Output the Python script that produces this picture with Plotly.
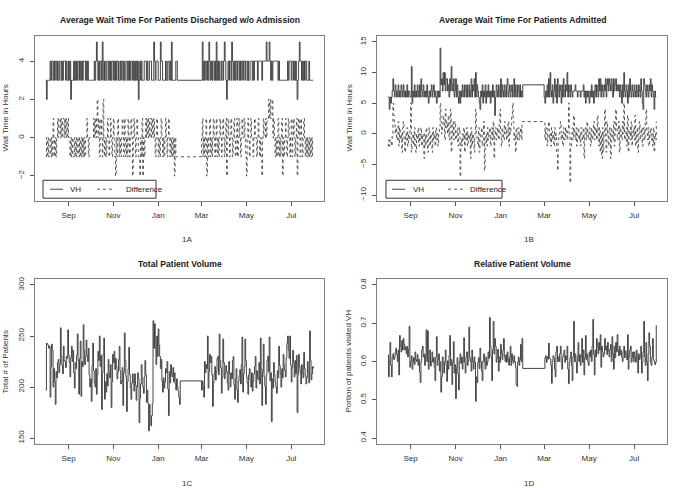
import pandas as pd
import plotly.graph_objects as go

# ---------------- data (daily values, Aug 2008 - Jan 2009 and Mar 2009 - Jul 2009) ----------------
FIRST_START = "2008-08-01"
SECOND_START = "2009-03-01"
LAST_DAY = "2009-07-31"

TICK_DATES = ["2008-09-01", "2008-11-01", "2009-01-01", "2009-03-01", "2009-05-01", "2009-07-01"]
TICK_TEXT = ["Sep", "Nov", "Jan", "Mar", "May", "Jul"]

# 1A: discharged w/o admission
disch_vh_a = [3,2,3,3,3,3,4,3,4,4, 3,4,3,4,4,3,4,3,3,4, 4,3,4,3,4,4,4,3,4,3, 3,4,3,4,2,3,3,3,4,3,
              4,3,4,3,4,4,3,4,3,4, 3,4,4,4,3,4,3,4,3,3, 3,3,3,3,3,3,4,3,4,5, 4,3,4,3,4,4,3,5,4,3,
              4,3,3,4,4,3,4,3,4,3, 4,4,3,4,3,4,3,4,4,3, 3,4,3,4,4,3,4,3,3,4, 4,3,4,3,4,3,4,4,3,4,
              3,4,3,4,3,4,2,3,4,3, 4,3,3,3,4,4,4,3,4,3, 3,4,4,4,3,3,3,5,4,3, 4,4,4,3,3,3,5,4,4,3,
              3,3,3,4,3,3,4,4,3,4, 3,5,3,3,3,3,3,4,4,3, 3,3,3,3]
disch_vh_b = [3,5,3,4,3,4,4,3,4,3, 5,4,3,4,3,4,4,3,4,3, 5,3,4,3,4,3,3,4,4,3, 4,5,4,3,2,3,4,3,4,4,
              3,5,4,3,4,3,4,4,3,4, 4,3,4,3,4,4,3,4,4,3, 4,4,3,4,3,3,4,4,4,3, 4,3,4,4,4,4,3,4,4,4,
              4,4,3,4,4,4,4,4,5,4, 4,4,5,4,3,4,3,4,4,4, 4,4,4,4,3,4,3,3,3,3, 3,3,3,3,3,3,3,4,3,4,
              4,4,3,4,4,3,4,3,4,3, 2,3,4,5,4,4,3,4,3,4, 3,4,4,3,3,3,4,3,3,3, 3,3,3]
disch_diff_a = [-1,0,-1,0,-1,-1,0,-1,0,-1, 1,0,-1,0,-1,0,1,0,1,1, 0,1,0,1,1,0,1,0,1,0, 1,0,0,-1,0,-1,0,-1,-1,0,
                -1,0,-1,0,0,-1,0,-1,0,-1, 0,-1,0,-1,0,0,1,0,-1,0, 0,0,0,0,0,1,0,1,0,1, 2,0,1,-1,0,1,0,-1,2,0,
                -1,0,-1,0,1,0,-1,0,1,0, -1,0,1,0,-1,-2,0,-1,1,0, -1,0,-1,0,1,0,-1,1,0,-1, 0,-1,1,0,-1,0,1,0,-2,0,
                1,0,-1,0,1,0,-1,-1,-2,0, -1,1,-2,0,-1,0,1,0,1,0, 1,0,1,1,0,1,0,1,0,-1, 0,1,0,-1,0,-1,0,1,0,-1,
                0,-1,0,1,0,-1,0,1,0,-1, 0,-1,0,-1,0,-2,0,-1,-1,-1, -1,-1,-1,-1]
disch_diff_b = [0,1,-1,0,-1,0,1,-2,0,-1, 0,1,-1,0,-1,0,1,0,-1,0, 1,-1,0,-1,0,1,0,-1,0,1, 0,-1,0,1,-2,0,1,0,-1,0,
                1,0,-1,0,1,0,-1,0,1,-1, 0,1,0,-1,0,1,0,0,1,0, -1,-2,0,1,0,-1,0,1,0,0, -1,0,1,0,0,-1,0,1,0,-1,
                0,-1,-2,0,1,0,0,1,0,1, 1,2,1,2,1,1,2,0,1,0, -1,0,-1,0,1,-1,0,-1,0,1, -2,0,-1,0,1,0,-1,0,1,0,
                -1,0,1,-1,0,1,0,-1,0,1, -2,0,1,0,-1,1,0,-1,0,1, 0,-1,0,-1,0,-1,0,-1,0,-1, 0,-1,-1]

# 1B: admitted
adm_vh_a = [6,6,4,6,5,6,7,9,7,6, 8,7,6,7,8,6,7,6,8,7, 6,8,7,6,7,6,8,6,7,7, 6,6,11,5,7,6,8,6,7,6,
            8,7,6,8,6,9,7,6,8,7, 6,7,6,8,6,5,7,6,7,8, 6,7,8,6,7,6,5,7,6,7, 6,14,8,9,7,10,8,10,7,9,
            9,7,8,6,9,7,11,8,7,9, 6,7,9,6,8,6,5,7,5,7, 6,8,7,6,8,7,6,8,6,7, 8,6,7,9,6,8,7,9,6,10,
            6,8,7,6,5,4,7,6,8,5, 7,6,8,5,7,6,8,6,7,5, 7,6,8,6,7,3,6,8,7,6, 8,7,6,9,6,8,7,6,8,7,
            6,8,9,6,7,8,6,7,8,6, 7,9,6,8,7,6,8,7,6,8, 6,7,6,8]
adm_vh_b = [6,5,7,6,8,6,9,6,10,7, 6,8,5,7,9,6,8,5,9,7, 6,8,7,5,8,6,9,7,6,8, 7,10,6,8,7,6,8,7,6,7,
            7,7,8,7,7,6,7,7,7,6, 7,7,7,8,6,7,5,7,6,7, 6,5,7,6,8,6,7,5,7,8, 6,8,7,6,9,7,9,6,8,7,
            6,8,7,9,6,8,9,7,9,8, 7,9,8,6,9,7,8,9,7,8, 7,8,6,8,7,5,8,6,10,7, 6,8,7,5,8,6,9,7,6,8,
            7,6,8,7,6,8,7,6,8,7, 6,9,7,5,4,9,8,7,6,8, 7,6,8,7,9,6,8,7,6,4, 7,6,6]
adm_diff_a = [-2,-1,-2,-1,-1,-2,0,5,3,2, 0,1,-1,0,2,-2,1,-1,0,-3, 1,2,-1,-3,0,-1,1,-2,0,-1, 1,5,-3,-1,0,-2,1,-1,-3,0,
              -1,1,-2,0,-1,1,-2,0,-1,-4, 0,-2,1,-1,-3,0,1,-2,0,-1, -3,1,-1,0,-2,1,-1,0,-2,0, 1,5,2,0,1,3,2,-1,4,1,
              2,0,3,-1,1,4,-3,0,2,-1, 1,2,-1,0,1,-2,0,1,-7,-1, -2,0,-1,1,-3,0,-1,1,-2,0, -1,0,-4,1,-2,0,-1,-3,0,4,
              0,-1,-2,1,-3,-1,0,1,-2,-1, 2,-6,-1,0,-2,1,-1,0,1,-2, 0,1,-1,2,-4,0,1,-1,0,1, -1,2,4,0,-2,1,0,-1,2,0,
              1,-1,0,2,-2,1,0,1,3,5, 2,-1,0,-3,1,-1,0,1,-1,0, 1,-1,2,2]
adm_diff_b = [2,-1,1,0,-2,1,2,-1,0,-2, 1,-1,0,-2,1,-1,0,-3,-6,-1, 0,1,2,-1,0,-2,1,0,-1,1, 0,-1,1,5,0,-8,-2,0,1,-1,
              3,0,-1,1,-2,0,1,-1,0,-2, 1,0,-1,1,-4,0,1,-1,2,0, -1,1,0,-2,1,-1,0,2,-1,0, 1,-1,3,0,-2,1,-3,0,-4,1,
              -3,0,4,-1,-3,2,0,-2,1,0, -4,1,0,-1,2,-2,0,4,1,-1, 0,2,-3,1,0,-1,2,0,5,-1, 0,1,-2,3,-3,0,1,-1,2,-2,
              0,1,-1,3,-2,0,1,-3,0,2, -1,0,1,-2,0,1,-1,2,4,0, -1,1,-2,0,1,-1,0,-2,1,-3, 0,-1,2]

# 1C: total patient volume
total_a = [197,243,242,241,238,240,190,220,242,236, 200,218,205,183,215,209,224,227,214,222,
           258,230,221,213,240,226,225,219,230,228, 256,231,224,210,229,240,225,236,214,199,
           224,218,231,252,226,193,228,245,191,225, 220,261,236,222,230,246,231,225,238,212,
           200,208,186,221,243,216,204,200,218,193, 212,235,226,250,220,231,178,214,232,248,
           188,205,195,213,201,227,214,209,222,180, 205,232,224,235,217,228,220,208,215,227,
           240,216,203,206,219,182,214,253,226,210, 176,205,218,239,212,199,188,204,213,205,
           196,213,202,187,200,214,208,165,189,203, 222,209,200,194,210,226,212,185,197,184,
           157,183,170,162,172,184,265,238,262,238, 222,250,230,257,241,230,218,227,206,195,
           209,199,205,218,214,225,198,172,215,204, 222,212,210,219,205,214,203,197,208,200,
           196,190,183,206]
total_b = [197,206,200,190,225,214,222,218,250,199, 215,232,224,230,212,181,204,213,220,207,
           215,228,230,212,252,226,219,194,210,247, 224,208,213,221,215,204,197,225,213,200,
           214,208,226,230,202,188,208,218,197,185, 206,211,217,203,222,249,195,213,220,247,
           226,210,204,193,212,218,207,200,214,196, 205,213,220,230,199,216,209,207,224,203,
           248,218,182,215,242,210,201,183,212,226, 230,215,249,206,214,166,208,199,224,212,
           205,200,194,216,209,240,221,213,200,218, 209,232,222,216,210,229,243,250,236,228,
           250,222,205,219,236,224,210,226,213,231, 175,212,232,220,215,203,222,214,209,234,
           218,211,203,209,225,215,204,255,226,207, 213,220,218]

# 1D: relative patient volume (portion visiting VH)
share_a = [0.617,0.560,0.600,0.650,0.590,0.560,0.612,0.620,0.605,0.610, 0.625,0.635,0.618,0.600,0.630,0.565,0.668,0.640,0.625,0.655,
           0.630,0.660,0.645,0.630,0.638,0.620,0.640,0.612,0.632,0.692, 0.585,0.600,0.615,0.580,0.598,0.610,0.592,0.625,0.605,0.600,
           0.618,0.590,0.606,0.572,0.545,0.600,0.630,0.640,0.612,0.620, 0.590,0.615,0.683,0.600,0.680,0.580,0.602,0.630,0.588,0.600,
           0.625,0.598,0.610,0.585,0.550,0.612,0.665,0.590,0.605,0.620, 0.575,0.600,0.520,0.560,0.612,0.600,0.570,0.598,0.630,0.590,
           0.548,0.602,0.580,0.615,0.668,0.590,0.605,0.540,0.598,0.652, 0.570,0.592,0.503,0.585,0.610,0.568,0.526,0.600,0.620,0.595,
           0.612,0.580,0.600,0.662,0.598,0.570,0.612,0.625,0.590,0.602, 0.690,0.610,0.600,0.575,0.630,0.600,0.580,0.612,0.598,0.496,
           0.560,0.545,0.598,0.610,0.582,0.635,0.600,0.575,0.550,0.602, 0.620,0.598,0.580,0.612,0.590,0.600,0.625,0.608,0.715,0.640,
           0.612,0.550,0.630,0.705,0.620,0.660,0.640,0.598,0.610,0.632, 0.575,0.612,0.598,0.645,0.620,0.605,0.630,0.660,0.612,0.600,
           0.618,0.598,0.625,0.606,0.590,0.612,0.640,0.590,0.620,0.602, 0.596,0.615,0.600,0.585,0.540,0.535,0.598,0.612,0.590,0.605,
           0.645,0.600,0.660,0.582]
share_b = [0.582,0.610,0.615,0.598,0.612,0.606,0.648,0.610,0.607,0.590, 0.543,0.600,0.615,0.610,0.580,0.560,0.625,0.640,0.600,0.612,
           0.600,0.620,0.640,0.598,0.580,0.612,0.620,0.630,0.598,0.615, 0.605,0.640,0.580,0.542,0.598,0.610,0.625,0.590,0.550,0.612,
           0.705,0.600,0.620,0.598,0.570,0.612,0.650,0.600,0.618,0.590, 0.612,0.660,0.598,0.630,0.565,0.610,0.668,0.605,0.620,0.600,
           0.590,0.625,0.612,0.630,0.600,0.640,0.710,0.618,0.565,0.630, 0.612,0.660,0.640,0.620,0.650,0.630,0.670,0.585,0.640,0.625,
           0.612,0.620,0.660,0.630,0.640,0.618,0.650,0.628,0.612,0.632, 0.645,0.600,0.665,0.620,0.580,0.640,0.610,0.650,0.625,0.670,
           0.630,0.615,0.640,0.618,0.630,0.612,0.600,0.625,0.640,0.610, 0.628,0.620,0.605,0.670,0.580,0.612,0.630,0.640,0.598,0.610,
           0.625,0.600,0.625,0.612,0.598,0.630,0.615,0.570,0.620,0.605, 0.612,0.640,0.570,0.598,0.625,0.705,0.612,0.590,0.650,0.600,
           0.550,0.620,0.675,0.640,0.598,0.590,0.612,0.660,0.605,0.600, 0.592,0.598,0.695]

LEGEND_LABELS = ["VH", "Difference"]

# ---------------- figure ----------------
W, H = 685, 488
FONT = "Liberation Sans, Arial, Helvetica, sans-serif"
LINE = "#444444"
DASHLINE = "#555555"
FRAME = "#808080"
DASH = "3px,3px"


def dates(a, b):
    return list(pd.date_range(FIRST_START, periods=len(a))) + list(pd.date_range(SECOND_START, periods=len(b)))


start = pd.Timestamp(FIRST_START)
end = pd.Timestamp(LAST_DAY)
pad = (end - start) * 0.04
XRANGE = [start - pad, end + pad]

LEFT = [35 / W, 324 / W]
RIGHT = [377 / W, 667 / W]
TOP = [1 - 200 / H, 1 - 34 / H]
BOT = [1 - 444 / H, 1 - 278 / H]

fig = go.Figure()

panels = [
    ("", LEFT, TOP, [(disch_vh_a, disch_vh_b, "solid"), (disch_diff_a, disch_diff_b, DASH)],
     [-2, 0, 2, 4], [-3.32, 5.32]),
    ("2", RIGHT, TOP, [(adm_vh_a, adm_vh_b, "solid"), (adm_diff_a, adm_diff_b, DASH)],
     [-10, -5, 0, 5, 10, 15], [-11, 16]),
    ("3", LEFT, BOT, [(total_a, total_b, "solid")], [150, 200, 250, 300], [144, 306]),
    ("4", RIGHT, BOT, [(share_a, share_b, "solid")], [0.4, 0.5, 0.6, 0.7, 0.8], [0.384, 0.816]),
]

for suf, xd, yd, series, yticks, yrange in panels:
    for a, b, dash in series:
        fig.add_trace(go.Scatter(
            x=dates(a, b), y=a + b, mode="lines",
            line=dict(shape="hv", color=LINE if dash == "solid" else DASHLINE, width=1, dash=dash),
            xaxis="x" + suf, yaxis="y" + suf, showlegend=False, hoverinfo="skip",
        ))
    axis_common = dict(showline=True, mirror=True, linecolor=FRAME, linewidth=1,
                       showgrid=False, zeroline=False, ticks="outside", ticklen=4,
                       tickcolor="#555", tickwidth=1,
                       tickfont=dict(family=FONT, size=8, color="#333"))
    fig.update_layout(**{
        "xaxis" + suf: dict(domain=xd, anchor="y" + suf, type="date", range=XRANGE,
                            tickvals=TICK_DATES, ticktext=TICK_TEXT, ticklabelstandoff=2, **axis_common),
        "yaxis" + suf: dict(domain=yd, anchor="x" + suf, range=yrange, tickvals=yticks,
                            tickangle=-90, ticklabelstandoff=3, **axis_common),
    })

ann = []
shapes = []
titles = [
    ("Average Wait Time For Patients Discharged w/o Admission", (LEFT[0] + LEFT[1]) / 2, 1 - 18 / H),
    ("Average Wait Time For Patients Admitted", (RIGHT[0] + RIGHT[1]) / 2, 1 - 18 / H),
    ("Total Patient Volume", (LEFT[0] + LEFT[1]) / 2, 1 - 263 / H),
    ("Relative Patient Volume", (RIGHT[0] + RIGHT[1]) / 2, 1 - 263 / H),
]
for t, x, y in titles:
    ann.append(dict(text="<b>%s</b>" % t, x=x, y=y, xref="paper", yref="paper", showarrow=False,
                    xanchor="center", yanchor="middle", font=dict(family=FONT, size=8.6, color="#1a1a1a")))

subs = [("1A", 187 / W, 1 - 238 / H), ("1B", 529 / W, 1 - 238 / H),
        ("1C", 187 / W, 1 - 483 / H), ("1D", 529 / W, 1 - 483 / H)]
for t, x, y in subs:
    ann.append(dict(text=t, x=x, y=y, xref="paper", yref="paper", showarrow=False,
                    xanchor="center", yanchor="middle", font=dict(family=FONT, size=8, color="#333")))

ylabels = [("Wait Time in Hours", 6 / W, TOP), ("Wait Time in Hours", 350 / W, TOP),
           ("Total # of Patients", 6 / W, BOT), ("Portion of patients visited VH", 349 / W, BOT)]
for t, x, yd in ylabels:
    ann.append(dict(text=t, x=x, y=(yd[0] + yd[1]) / 2, xref="paper", yref="paper", showarrow=False,
                    textangle=-90, xanchor="center", yanchor="middle",
                    font=dict(family=FONT, size=8, color="#333")))

# legend boxes (drawn like R's horizontal legend)
legend_boxes = [
    # box left, box right, solid sample x0, x1, label x, dashed sample x0, x1, label x
    (43, 156, 50, 63, 68, 97, 115, 124),
    (386, 502, 392, 405, 411, 448, 465, 468),
]
LEG_TOP, LEG_BOT, LEG_MID = 179, 197, 188
for bl, br, s0, s1, sl, d0, d1, dl in legend_boxes:
    shapes.append(dict(type="rect", xref="paper", yref="paper", x0=bl / W, x1=br / W,
                       y0=1 - LEG_BOT / H, y1=1 - LEG_TOP / H, line=dict(color="#333", width=1),
                       fillcolor="white", layer="above"))
    shapes.append(dict(type="line", xref="paper", yref="paper", x0=s0 / W, x1=s1 / W,
                       y0=1 - LEG_MID / H, y1=1 - LEG_MID / H, line=dict(color=LINE, width=1)))
    shapes.append(dict(type="line", xref="paper", yref="paper", x0=d0 / W, x1=d1 / W,
                       y0=1 - LEG_MID / H, y1=1 - LEG_MID / H,
                       line=dict(color=DASHLINE, width=1, dash=DASH)))
    for txt, lx in zip(LEGEND_LABELS, (sl, dl)):
        ann.append(dict(text=txt, x=lx / W, y=1 - LEG_MID / H, xref="paper", yref="paper",
                        showarrow=False, xanchor="left", yanchor="middle",
                        font=dict(family=FONT, size=8, color="#222")))

fig.update_layout(
    width=W, height=H, margin=dict(l=0, r=0, t=0, b=0),
    paper_bgcolor="white", plot_bgcolor="white",
    font=dict(family=FONT, size=8, color="#333"),
    annotations=ann, shapes=shapes, showlegend=False,
)

fig.write_html("out.html", config={"displayModeBar": False},
               post_script="document.body.style.margin='0px';")
